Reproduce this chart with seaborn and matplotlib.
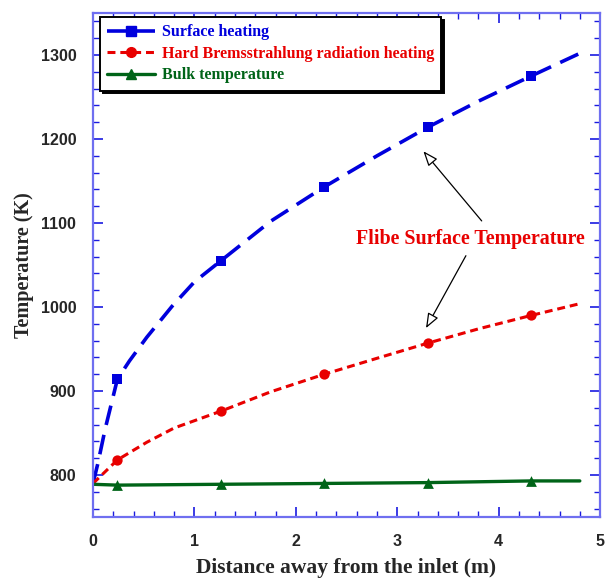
import matplotlib
matplotlib.use("Agg")
import matplotlib.pyplot as plt
from matplotlib.lines import Line2D
from matplotlib.ticker import MultipleLocator
import seaborn as sns

# ---- data ----
surf_x = [0.0, 0.05, 0.12, 0.24, 0.36, 0.53, 0.78, 1.0, 1.26, 1.75, 2.28, 2.8, 3.3, 3.8, 4.32, 4.8]
surf_y = [790, 815, 855, 914, 936, 964, 1001, 1030, 1055, 1102, 1143, 1180, 1214, 1245, 1275, 1302]
brem_x = [0.0, 0.24, 0.53, 0.8, 1.26, 1.75, 2.28, 2.8, 3.3, 3.8, 4.32, 4.8]
brem_y = [790, 818, 839, 856, 876, 899, 920, 939, 957, 974, 990, 1004]
bulk_x = [0.0, 0.24, 1.26, 2.28, 3.3, 4.32, 4.8]
bulk_y = [789, 788, 789, 790, 791, 793, 793]

mark_x = [0.24, 1.26, 2.28, 3.3, 4.32]
surf_m = [914, 1055, 1143, 1214, 1275]
brem_m = [818, 876, 920, 957, 990]
bulk_m = [788, 789, 790, 791, 793]

labels = ["Surface heating", "Hard Bremsstrahlung radiation heating", "Bulk temperature"]
colors = ["#0000dd", "#e80000", "#006418"]

sns.set_style("white")
plt.rcParams["font.family"] = ["Liberation Serif", "DejaVu Serif"]

fig = plt.figure(figsize=(6.08, 5.79), dpi=100)
ax = fig.add_axes([0.153, 0.107, 0.834, 0.8705])

blue_ls = (0, (5.5, 2.8))
red_ls = (0, (2.6, 1.6))
sns.lineplot(x=surf_x, y=surf_y, ax=ax, color=colors[0], lw=2.6,
             linestyle=blue_ls, sort=False)
sns.lineplot(x=brem_x, y=brem_y, ax=ax, color=colors[1], lw=2.2,
             linestyle=red_ls, sort=False)
sns.lineplot(x=bulk_x, y=bulk_y, ax=ax, color=colors[2], lw=2.4, sort=False)

sns.scatterplot(x=mark_x, y=surf_m, ax=ax, color=colors[0], marker="s", s=55, linewidth=0)
sns.scatterplot(x=mark_x, y=brem_m, ax=ax, color=colors[1], marker="o", s=55, linewidth=0)
sns.scatterplot(x=mark_x, y=bulk_m, ax=ax, color=colors[2], marker="^", s=60, linewidth=0)

ax.set_xlim(0, 5)
ax.set_ylim(750, 1350)
ax.xaxis.set_major_locator(MultipleLocator(1))
ax.xaxis.set_minor_locator(MultipleLocator(0.2))
ax.yaxis.set_major_locator(MultipleLocator(100))
ax.yaxis.set_minor_locator(MultipleLocator(20))

frame_col = "#6f6ff0"
for s in ax.spines.values():
    s.set_color(frame_col)
    s.set_linewidth(1.6)
ax.tick_params(which="both", direction="in", top=True, right=True,
               bottom=True, left=True, color="#1a1ae0")
ax.tick_params(which="major", length=7, width=1.2, pad=12)
ax.tick_params(which="minor", length=4, width=1.0)
for lab in ax.get_xticklabels() + ax.get_yticklabels():
    lab.set_family(["Liberation Sans", "DejaVu Sans"])
    lab.set_fontweight("bold")
    lab.set_fontsize(11.5)

ax.set_xlabel("Distance away from the inlet (m)", fontsize=15.5, fontweight="bold", labelpad=7)
ax.set_ylabel("Temperature (K)", fontsize=14.5, fontweight="bold", labelpad=5)

handles = [
    Line2D([], [], color=colors[0], lw=2.6, linestyle=blue_ls, marker="s", markersize=7),
    Line2D([], [], color=colors[1], lw=2.2, linestyle=red_ls, marker="o", markersize=7),
    Line2D([], [], color=colors[2], lw=2.4, marker="^", markersize=7),
]
leg = ax.legend(handles, labels, loc="upper left", bbox_to_anchor=(0.014, 0.992),
                borderaxespad=0, frameon=True, fancybox=False,
                shadow={"color": "black", "alpha": 1.0},
                edgecolor="black", framealpha=1, handlelength=3.0, handletextpad=0.4,
                borderpad=0.45, labelspacing=0.35, labelcolor="linecolor",
                prop={"family": "Liberation Serif", "weight": "bold", "size": 11.5})
leg.get_frame().set_linewidth(1.4)

ax.text(3.72, 1081, "Flibe Surface Temperature", color="#e80000", fontsize=14.4,
        fontweight="bold", ha="center", va="center")
arrow = dict(arrowstyle="-|>,head_length=0.9,head_width=0.35", color="black",
             lw=0.9, fc="white")
ax.annotate("", xy=(3.24, 1188), xytext=(3.85, 1100), arrowprops=arrow)
ax.annotate("", xy=(3.27, 972), xytext=(3.69, 1064), arrowprops=arrow)

fig.savefig("out.png", dpi=100)
